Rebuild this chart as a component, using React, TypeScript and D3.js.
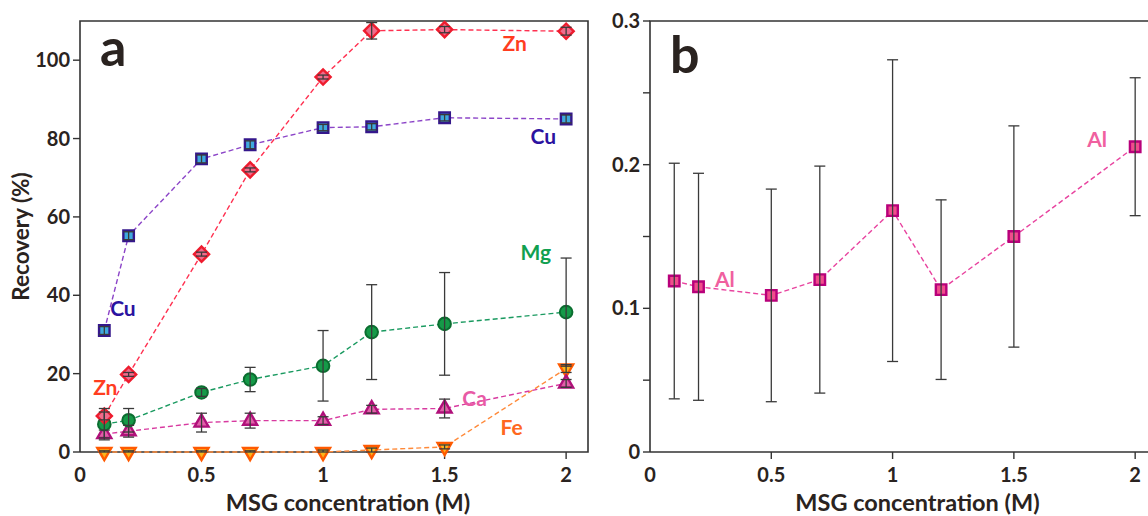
import React from "react";
import * as d3 from "d3";

// MSG concentrations (M)
const conc = [0.1, 0.2, 0.5, 0.7, 1, 1.2, 1.5, 2];

// panel a: recovery (%)
const cu = [31, 55.2, 74.8, 78.4, 82.8, 83, 85.3, 85];
const cuErr = [1, 1, 1, 1, 0.8, 0.8, 0.8, 1];
const zn = [9.2, 19.8, 50.5, 72, 95.7, 107.5, 107.8, 107.4];
const znErr = [1, 0.5, 0.5, 0.5, 0.5, 2.1, 0.8, 1];
const mg = [7.1, 8.1, 15.2, 18.5, 22, 30.6, 32.7, 35.7];
const mgErr = [4, 3, 1, 3.1, 9, 12.1, 13.1, 13.8];
const ca = [4.6, 5.3, 7.5, 8, 8, 10.9, 11.1, 17.5];
const caErr = [1, 1.5, 2.4, 1.9, 1, 1, 2.4, 1];
const fe = [0, 0, 0, 0, 0, 0.5, 1.3, 21.3];
const feErr = [0.3, 0.3, 0.3, 0.3, 0.5, 0.5, 0.5, 1];

// panel b: Al recovery (%)
const al = [0.119, 0.115, 0.109, 0.12, 0.168, 0.113, 0.15, 0.2125];
const alErr = [0.082, 0.079, 0.074, 0.079, 0.105, 0.0625, 0.077, 0.048];

const xTicks = [0, 0.5, 1, 1.5, 2];
const yTicksA = [0, 20, 40, 60, 80, 100];
const yTicksB = [0, 0.1, 0.2, 0.3];
const yMinorB = [0.05, 0.15, 0.25];

const FONT = "Lato, 'Open Sans', sans-serif";
const INK = "#2a2320";
const AXIS = "#333";

type Series = {
  name: string;
  values: number[];
  err: number[];
  shape: string;
  fill: string;
  stroke: string;
  line: string;
  labelColor: string;
  labels: [number, number][];
};

const seriesA: Series[] = [
  { name: "Fe", values: fe, err: feErr, shape: "triDown", fill: "#f9b51c", stroke: "#ff5a00", line: "#ff8a3a", labelColor: "#ff6820", labels: [[1.73, 4.3]] },
  { name: "Ca", values: ca, err: caErr, shape: "triUp", fill: "#e060a8", stroke: "#b0107a", line: "#d83aa0", labelColor: "#e85aa5", labels: [[1.573, 11.7]] },
  { name: "Mg", values: mg, err: mgErr, shape: "circle", fill: "#159a48", stroke: "#0b6e30", line: "#1a9a60", labelColor: "#10a050", labels: [[1.812, 48.9]] },
  { name: "Zn", values: zn, err: znErr, shape: "diamond", fill: "#f06c8c", stroke: "#ee1c2e", line: "#ff3050", labelColor: "#ff3d1f", labels: [[1.738, 102.3], [0.054, 14.5]] },
  { name: "Cu", values: cu, err: cuErr, shape: "square", fill: "#3fa9dc", stroke: "#34178c", line: "#8c45c8", labelColor: "#2b13a0", labels: [[1.853, 78.6], [0.124, 34.6]] },
];

const seriesB: Series[] = [
  { name: "Al", values: al, err: alErr, shape: "square", fill: "#f04e8c", stroke: "#b8007a", line: "#e8439f", labelColor: "#f0609f", labels: [[1.802, 0.2122], [0.268, 0.1148]] },
];

function marker(shape: string, x: number, y: number, s: Series, key: string) {
  if (shape === "circle") {
    return <circle key={key} cx={x} cy={y} r={6.3} fill={s.fill} stroke={s.stroke} strokeWidth={2} />;
  }
  let type: d3.SymbolType = d3.symbolSquare;
  let size = 110;
  let rot = 0;
  if (shape === "diamond") { rot = 45; size = 115; }
  if (shape === "triUp") { type = d3.symbolTriangle; size = 85; }
  if (shape === "triDown") { type = d3.symbolTriangle; size = 85; rot = 180; }
  const d = d3.symbol().type(type).size(size)() as string;
  return (
    <path key={key} d={d} transform={`translate(${x},${y}) rotate(${rot})`}
      fill={s.fill} stroke={s.stroke} strokeWidth={2.4} />
  );
}

type PanelProps = {
  left: number;
  right: number;
  frameRight: number;
  yMax: number;
  yTicks: number[];
  yMinor: number[];
  yFmt: (v: number) => string;
  series: Series[];
  letter: string;
  letterY: number;
  yTitle?: string;
};

const TOP = 21;
const BOTTOM = 452;

function Panel(p: PanelProps) {
  const x = d3.scaleLinear().domain([0, 2.09]).range([p.left, p.right]);
  const y = d3.scaleLinear().domain([0, p.yMax]).range([BOTTOM, TOP]);
  const line = d3.line<number>().x((_, i) => x(conc[i])).y((d) => y(d));
  const midX = (p.left + p.right) / 2;
  return (
    <g>
      {/* frame */}
      <path d={`M${p.left},${BOTTOM}V${TOP}H${p.frameRight}V${BOTTOM}H${p.left}`} fill="none" stroke={AXIS} strokeWidth={1.6} />
      {p.yTicks.map((t) => (
        <g key={"yt" + t}>
          <line x1={p.left - 7} x2={p.left} y1={y(t)} y2={y(t)} stroke={AXIS} strokeWidth={1.4} />
          <text x={p.left - 10} y={y(t)} dy="0.35em" textAnchor="end" fontSize={20} fontWeight={700} fill={INK}>{p.yFmt(t)}</text>
        </g>
      ))}
      {p.yMinor.map((t) => (
        <line key={"ym" + t} x1={p.left - 7} x2={p.left} y1={y(t)} y2={y(t)} stroke={AXIS} strokeWidth={1.4} />
      ))}
      {xTicks.map((t) => (
        <g key={"xt" + t}>
          {t > 0 && <line x1={x(t)} x2={x(t)} y1={BOTTOM} y2={BOTTOM + 7} stroke={AXIS} strokeWidth={1.4} />}
          <text x={x(t)} y={482} textAnchor="middle" fontSize={20} fontWeight={700} fill={INK}>{String(t)}</text>
        </g>
      ))}
      <text x={midX + 14} y={511} textAnchor="middle" fontSize={23.5} fontWeight={700} fill={INK}>MSG concentration (M)</text>
      {p.yTitle && (
        <text transform={`translate(29,${(TOP + BOTTOM) / 2}) rotate(-90)`} textAnchor="middle" fontSize={22.5} fontWeight={700} fill={INK}>{p.yTitle}</text>
      )}
      <text x={p.left + 20} y={p.letterY} fontSize={52} fontWeight={700} fill={INK}>{p.letter}</text>
      {p.series.map((s) => (
        <path key={"l" + s.name} d={line(s.values) as string} fill="none" stroke={s.line} strokeWidth={1.4} strokeDasharray="5,3" />
      ))}
      {p.series.map((s) => (
        <g key={"m" + s.name}>
          {s.values.map((v, i) => marker(s.shape, x(conc[i]), y(v), s, s.name + i))}
        </g>
      ))}
      {p.series.map((s) => (
        <g key={"e" + s.name} stroke="#3a3a3a" strokeWidth={1.3}>
          {s.values.map((v, i) => {
            const cx = x(conc[i]);
            const y1 = y(v + s.err[i]);
            const y2 = y(Math.max(0, v - s.err[i]));
            return (
              <g key={i}>
                <line x1={cx} x2={cx} y1={y1} y2={y2} />
                <line x1={cx - 5.5} x2={cx + 5.5} y1={y1} y2={y1} />
                <line x1={cx - 5.5} x2={cx + 5.5} y1={y2} y2={y2} />
              </g>
            );
          })}
        </g>
      ))}
      {p.series.map((s) =>
        s.labels.map(([lx, ly], j) => (
          <text key={s.name + "t" + j} x={x(lx)} y={y(ly)} fontSize={21} fontWeight={700} fill={s.labelColor}>{s.name}</text>
        ))
      )}
    </g>
  );
}

export default function App() {
  return (
    <svg width={1148} height={516} style={{ position: "absolute", left: 0, top: 0, fontFamily: FONT }}>
      <rect width={1148} height={516} fill="#fff" />
      <Panel left={80} right={588} frameRight={588} yMax={110} yTicks={yTicksA} yMinor={[]}
        yFmt={(v) => String(v)} series={seriesA} letter="a" letterY={66} yTitle="Recovery (%)" />
      <Panel left={650} right={1157} frameRight={1160} yMax={0.3} yTicks={yTicksB} yMinor={yMinorB}
        yFmt={(v) => (v === 0 ? "0" : v.toFixed(1))} series={seriesB} letter="b" letterY={73} />
    </svg>
  );
}
